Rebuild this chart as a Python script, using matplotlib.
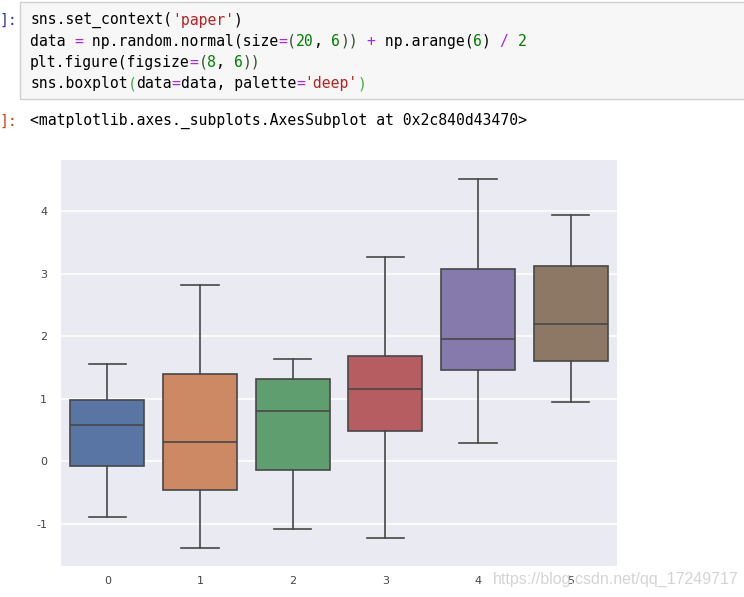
import matplotlib
matplotlib.use("Agg")
import matplotlib.pyplot as plt
import seaborn as sns
from matplotlib.patches import Rectangle

W, H = 744, 597

# box statistics (one entry per column 0..5)
CATS = ["0", "1", "2", "3", "4", "5"]
WHISK_LO = [-0.90, -1.39, -1.09, -1.23, 0.29, 0.94]
Q1 = [-0.08, -0.46, -0.14, 0.48, 1.45, 1.61]
MED = [0.57, 0.30, 0.80, 1.15, 1.96, 2.19]
Q3 = [0.97, 1.40, 1.31, 1.68, 3.07, 3.13]
WHISK_HI = [1.55, 2.82, 1.63, 3.26, 4.52, 3.94]
YTICKS = [-1, 0, 1, 2, 3, 4]

CODE = [
    [("sns.set_context(", "k"), ("'paper'", "s"), (")", "k")],
    [("data ", "k"), ("=", "o"), (" np.random.normal(size", "k"), ("=", "o"), ("(", "p"),
     ("20", "n"), (", ", "k"), ("6", "n"), ("))", "p"), (" ", "k"), ("+", "o"),
     (" np.arange(", "k"), ("6", "n"), (") ", "k"), ("/", "o"), (" ", "k"), ("2", "n")],
    [("plt.figure(figsize", "k"), ("=", "o"), ("(", "p"), ("8", "n"), (", ", "k"),
     ("6", "n"), ("))", "p")],
    [("sns.boxplot", "k"), ("(", "m"), ("data", "k"), ("=", "o"), ("data, palette", "k"),
     ("=", "o"), ("'deep'", "s"), (")", "m")],
]
OUT_TEXT = "<matplotlib.axes._subplots.AxesSubplot at 0x2c840d43470>"
WATERMARK = "https://blog.csdn.net/qq_17249717"

COLORS = {"k": "#000000", "s": "#ba2121", "o": "#aa22ff", "n": "#008000",
          "p": "#2f4f2f", "m": "#44aa44"}

plt.rcParams["axes.unicode_minus"] = False


def fx(x):
    return x / W


def fy(y):
    return 1 - y / H


fig = plt.figure(figsize=(W / 100, H / 100), dpi=100)
fig.patch.set_facecolor("white")

# code cell
fig.patches.append(Rectangle((fx(20), fy(99)), fx(730), (99 - 2) / H, transform=fig.transFigure,
                             facecolor="#f7f7f7", edgecolor="#cfcfcf", lw=1))
fs = 10.6
cw = 0.602 * fs * 100 / 72
fig.text(fx(-1), fy(20), "]:", fontsize=fs, family="DejaVu Sans Mono", color="#303f9f", va="center")
for i, line in enumerate(CODE):
    x = 30
    for seg, c in line:
        fig.text(fx(x), fy(20 + i * 21.2), seg, fontsize=fs, family="DejaVu Sans Mono",
                 color=COLORS[c], va="center")
        x += len(seg) * cw
fig.text(fx(-1), fy(121), "]:", fontsize=fs, family="DejaVu Sans Mono", color="#d84315", va="center")
fig.text(fx(30), fy(121), OUT_TEXT, fontsize=fs, family="DejaVu Sans Mono", color="#000000", va="center")

# chart
ax = fig.add_axes([fx(61), fy(566), (617 - 61) / W, (566 - 160) / H])
ax.set_facecolor("#eaeaf2")
for s in ax.spines.values():
    s.set_visible(False)
ax.grid(axis="y", color="white", lw=1.1)
ax.set_axisbelow(True)

pal = [sns.desaturate(c, 0.75) for c in sns.color_palette("deep", 6)]
edge = "#474747"
stats = [dict(label=CATS[i], whislo=WHISK_LO[i], q1=Q1[i], med=MED[i], q3=Q3[i],
              whishi=WHISK_HI[i], fliers=[]) for i in range(6)]
bp = ax.bxp(stats, positions=range(6), widths=0.8, patch_artist=True, showfliers=False,
            boxprops=dict(edgecolor=edge, lw=1.2),
            medianprops=dict(color=edge, lw=1.2),
            whiskerprops=dict(color=edge, lw=1.2),
            capprops=dict(color=edge, lw=1.2))
for patch, c in zip(bp["boxes"], pal):
    patch.set_facecolor(c)

ax.set_xlim(-0.5, 5.5)
ax.set_ylim(-1.68, 4.82)
ax.set_yticks(YTICKS)
ax.set_xticks(range(6))
ax.set_xticklabels(CATS)
ax.tick_params(length=0, labelsize=8, labelcolor="#444444")
ax.tick_params(axis="y", pad=10)
ax.tick_params(axis="x", pad=7)

# watermark sits over the last tick label, as in the screenshot
fig.text(fx(493), fy(579), WATERMARK, fontsize=11.5, family="Liberation Sans", color="#d4d4d4",
         va="center", zorder=10)

fig.savefig("out.png", dpi=100)
